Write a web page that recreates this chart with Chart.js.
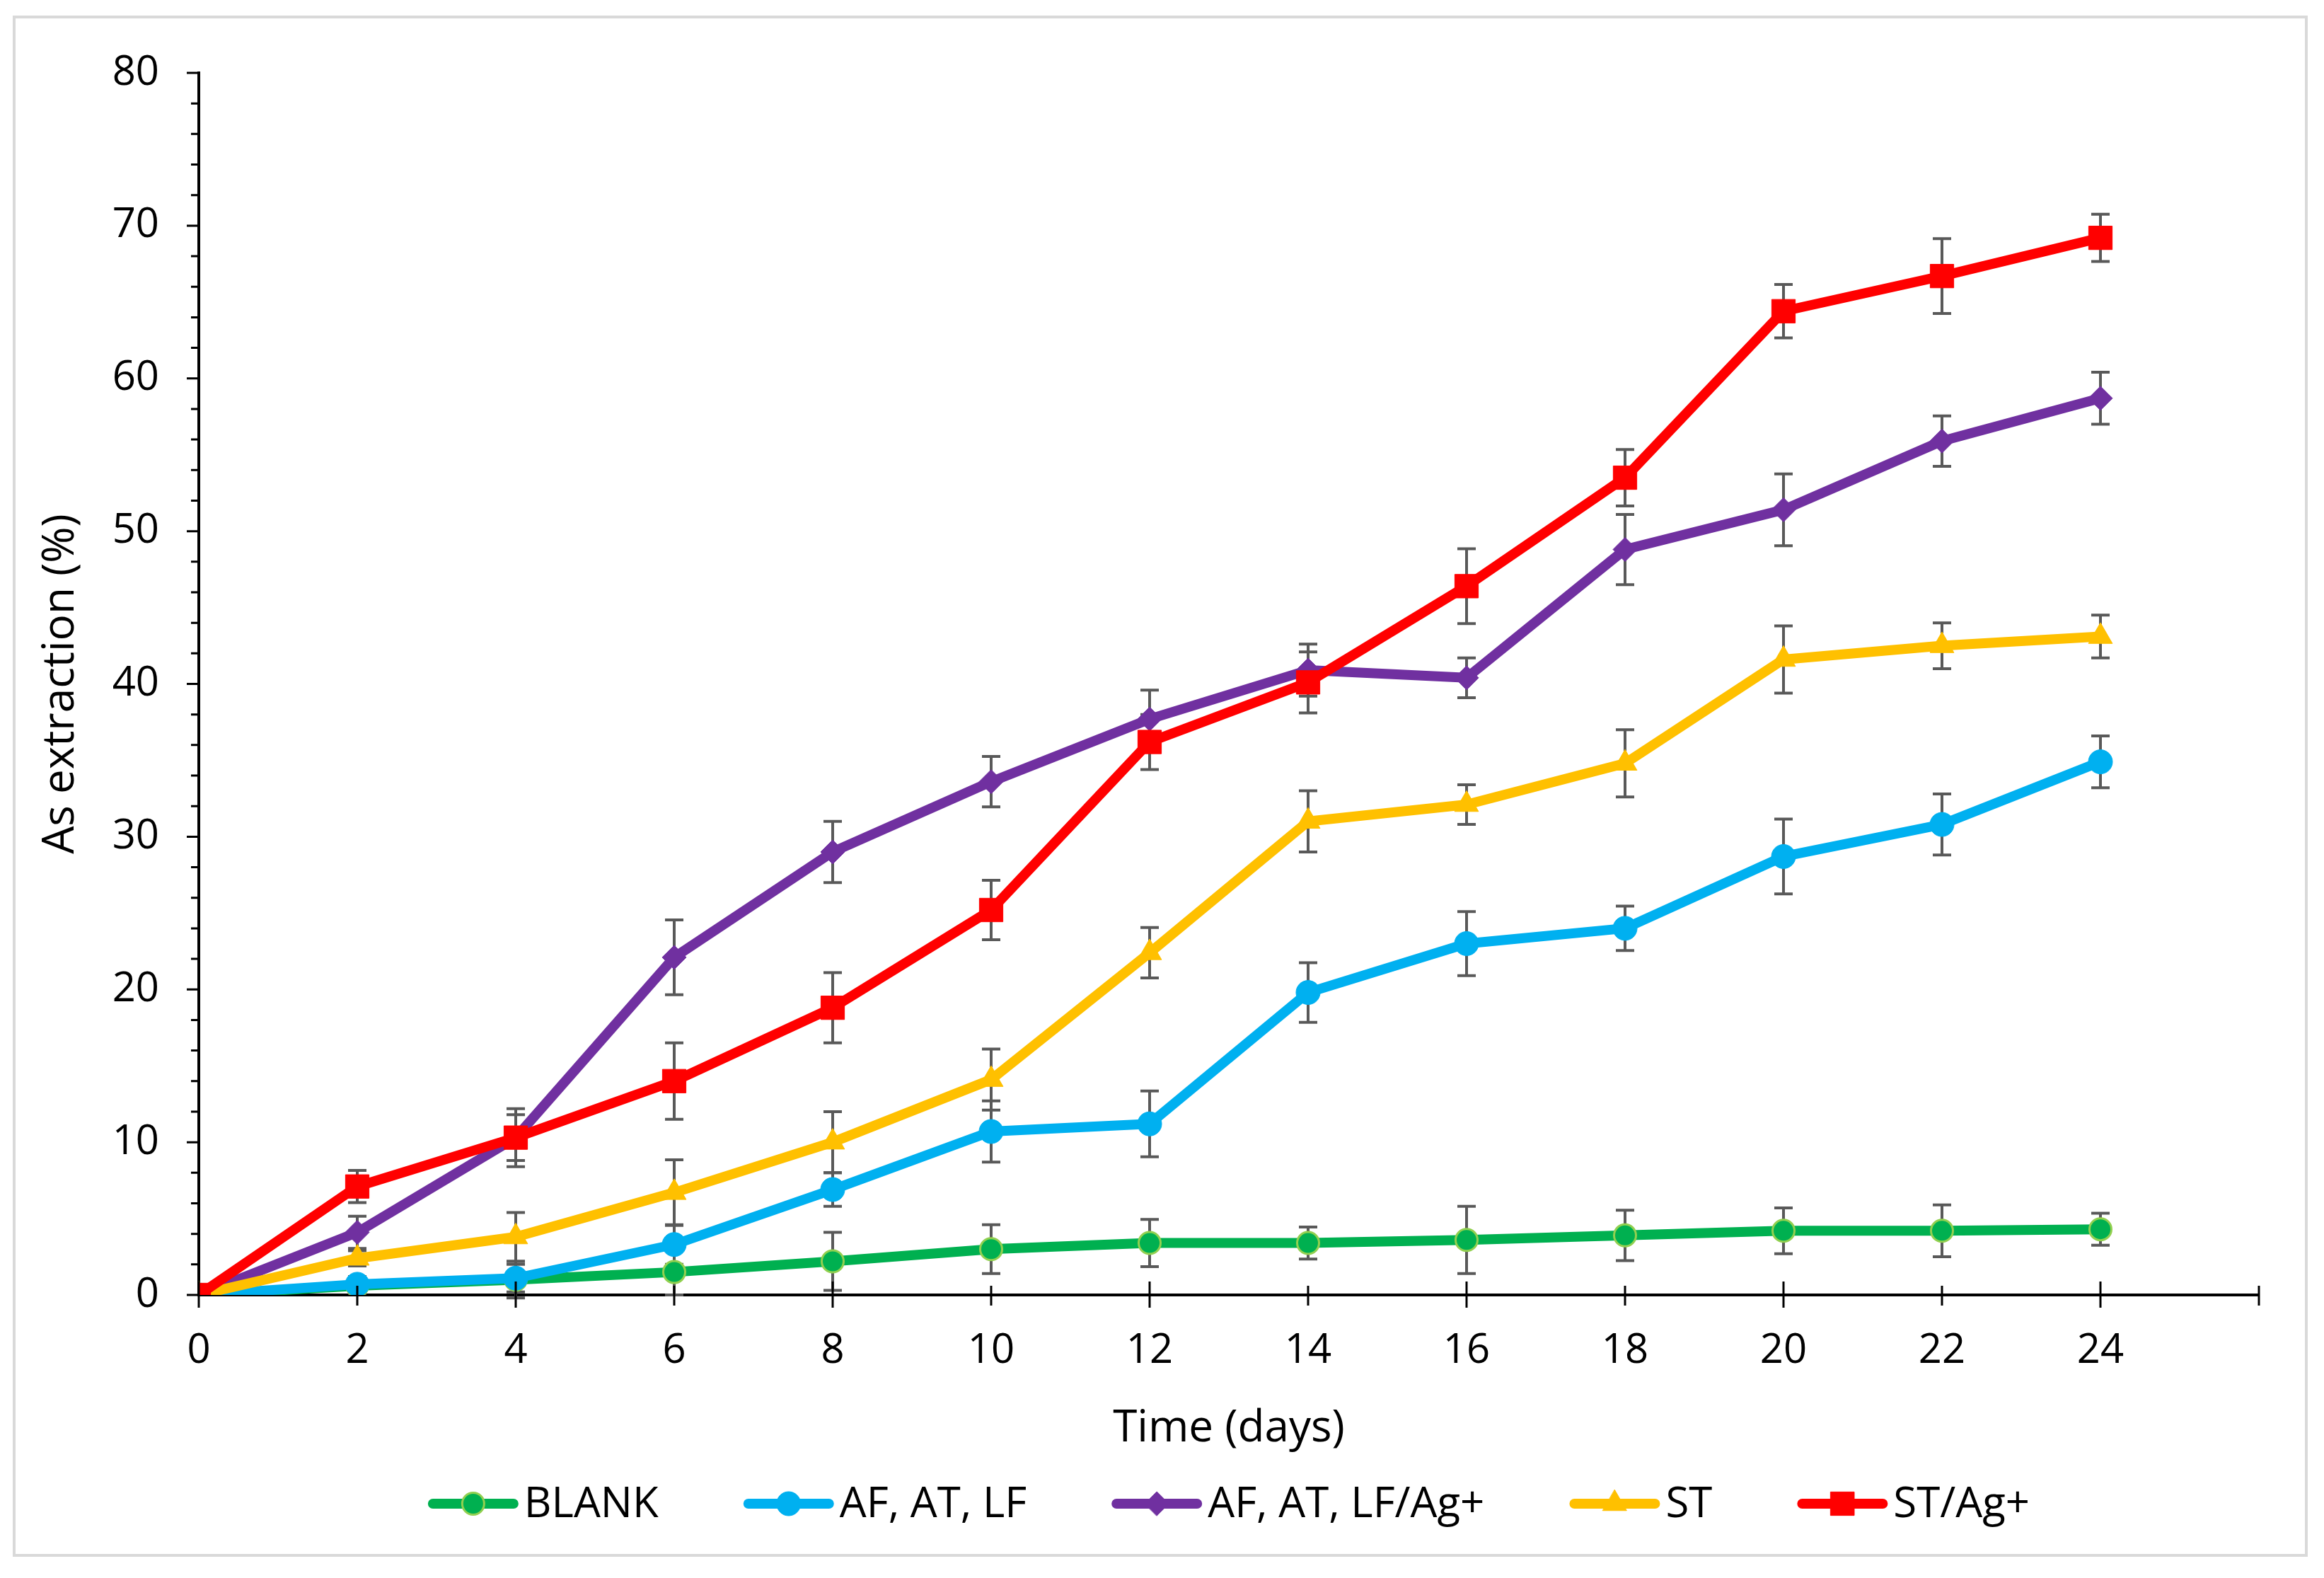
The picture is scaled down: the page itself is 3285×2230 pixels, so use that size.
<!DOCTYPE html>
<html>
<head>
<meta charset="utf-8">
<script src="https://cdn.jsdelivr.net/npm/chart.js@4.4.1/dist/chart.umd.min.js"></script>
<style>
  html, body { margin: 0; padding: 0; background: #ffffff; }
  #chart { display: block; }
</style>
</head>
<body>
<canvas id="chart" width="3285" height="2230"></canvas>
<script>
// --- data ---
const days = [0, 2, 4, 6, 8, 10, 12, 14, 16, 18, 20, 22, 24];

const blank       = [0, 0.6, 1.0, 1.5, 2.2, 3.0, 3.4, 3.4, 3.6, 3.9, 4.2, 4.2, 4.3];
const blankErr    = [0, 0.5, 1.2, 1.5, 1.9, 1.6, 1.55, 1.05, 2.2, 1.65, 1.5, 1.7, 1.05];
const afAtLf      = [0, 0.7, 1.1, 3.3, 6.9, 10.7, 11.2, 19.8, 23.0, 24.0, 28.7, 30.8, 34.9];
const afAtLfErr   = [0, 0.5, 0.9, 1.3, 1.1, 2.0, 2.15, 1.95, 2.1, 1.45, 2.45, 2.0, 1.7];
const afAtLfAg    = [0, 4.1, 10.3, 22.1, 29.0, 33.6, 37.7, 40.9, 40.4, 48.8, 51.4, 55.9, 58.7];
const afAtLfAgErr = [0, 1.05, 1.9, 2.45, 2.0, 1.65, 1.9, 1.7, 1.3, 2.3, 2.35, 1.65, 1.7];
const st          = [0, 2.4, 3.8, 6.7, 10.0, 14.1, 22.4, 31.0, 32.1, 34.8, 41.6, 42.5, 43.1];
const stErr       = [0, 0.5, 1.6, 2.15, 2.0, 2.0, 1.65, 2.0, 1.3, 2.2, 2.2, 1.5, 1.4];
const stAg        = [0, 7.1, 10.3, 14.0, 18.8, 25.2, 36.2, 40.1, 46.4, 53.5, 64.4, 66.7, 69.2];
const stAgErr     = [0, 1.05, 1.5, 2.5, 2.3, 1.95, 1.8, 2.0, 2.45, 1.85, 1.75, 2.45, 1.55];

const xTicks = [0, 2, 4, 6, 8, 10, 12, 14, 16, 18, 20, 22, 24];
const yTicks = [0, 10, 20, 30, 40, 50, 60, 70, 80];

const FONT = '"Open Sans", "Noto Sans", sans-serif';
Chart.defaults.font.family = FONT;
Chart.defaults.color = '#000000';

const toPoints = vals => vals.map((v, i) => ({ x: days[i], y: v }));

function series(label, vals, errs, color, style, radius, order, markerBorder) {
  return {
    label: label,
    data: toPoints(vals),
    errors: errs,
    borderColor: color,
    backgroundColor: color,
    borderWidth: 14,
    borderJoinStyle: 'round',
    tension: 0,
    pointStyle: style,
    pointRadius: radius,
    pointBackgroundColor: color,
    pointBorderColor: markerBorder || color,
    pointBorderWidth: markerBorder ? 3 : 1,
    order: order
  };
}

// frame, error bars, crossing tick marks and a line+marker legend
const decor = {
  id: 'decor',
  beforeDraw(chart) {
    const ctx = chart.ctx;
    ctx.save();
    ctx.fillStyle = '#ffffff';
    ctx.fillRect(0, 0, chart.width, chart.height);
    ctx.strokeStyle = '#d9d9d9';
    ctx.lineWidth = 4;
    ctx.strokeRect(20, 24, 3240, 2174);
    ctx.restore();
  },
  beforeDatasetsDraw(chart) {
    const ctx = chart.ctx;
    const xs = chart.scales.x, ys = chart.scales.y;
    ctx.save();
    ctx.strokeStyle = '#595959';
    ctx.lineWidth = 4;
    chart.data.datasets.forEach(ds => {
      ds.data.forEach((p, i) => {
        const e = ds.errors[i];
        if (!e) return;
        const px = xs.getPixelForValue(p.x);
        const top = ys.getPixelForValue(p.y + e);
        const bot = ys.getPixelForValue(p.y - e);
        ctx.beginPath();
        ctx.moveTo(px, top); ctx.lineTo(px, bot);
        ctx.moveTo(px - 13, top); ctx.lineTo(px + 13, top);
        ctx.moveTo(px - 13, bot); ctx.lineTo(px + 13, bot);
        ctx.stroke();
      });
    });
    ctx.restore();
  },
  afterDraw(chart) {
    const ctx = chart.ctx;
    const xs = chart.scales.x, ys = chart.scales.y;
    const axisY = ys.getPixelForValue(0);
    const axisX = xs.getPixelForValue(0);
    ctx.save();
    ctx.strokeStyle = '#000000';
    ctx.lineWidth = 3;
    ctx.beginPath();
    for (let v = 0; v <= 26; v += 2) {
      const px = xs.getPixelForValue(v);
      const major = v % 4 === 0;
      ctx.moveTo(px, axisY - (major ? 19 : 13));
      ctx.lineTo(px, axisY + (major ? 18 : 15));
    }
    for (let v = 0; v <= 80; v += 2) {
      const py = ys.getPixelForValue(v);
      const len = v % 10 === 0 ? 17 : 11;
      ctx.moveTo(axisX - len, py);
      ctx.lineTo(axisX, py);
    }
    ctx.stroke();

    // legend
    const lineLen = 128, textGap = 8, itemGap = 120, legendY = 2125;
    ctx.font = '60px ' + FONT;
    const sets = chart.data.datasets;
    const widths = sets.map(ds => ctx.measureText(ds.label).width);
    let total = itemGap * (sets.length - 1);
    widths.forEach(w => { total += lineLen + textGap + w; });
    let x = (chart.chartArea.left + chart.chartArea.right) / 2 - total / 2;
    sets.forEach((ds, i) => {
      ctx.strokeStyle = ds.borderColor;
      ctx.lineWidth = ds.borderWidth;
      ctx.lineCap = 'round';
      ctx.beginPath();
      ctx.moveTo(x + 7, legendY);
      ctx.lineTo(x + lineLen - 7, legendY);
      ctx.stroke();
      ctx.fillStyle = ds.pointBackgroundColor;
      ctx.strokeStyle = ds.pointBorderColor;
      ctx.lineWidth = ds.pointBorderWidth;
      Chart.helpers.drawPoint(ctx, {
        pointStyle: ds.pointStyle, radius: ds.pointRadius,
        borderWidth: ds.pointBorderWidth, rotation: 0
      }, x + lineLen / 2, legendY);
      ctx.fillStyle = '#000000';
      ctx.textAlign = 'left';
      ctx.textBaseline = 'middle';
      ctx.fillText(ds.label, x + lineLen + textGap, legendY + 2);
      x += lineLen + textGap + widths[i] + itemGap;
    });
    ctx.restore();
  }
};

new Chart(document.getElementById('chart'), {
  type: 'line',
  data: {
    datasets: [
      series('BLANK', blank, blankErr, '#00B050', 'circle', 15.5, 5, '#92D050'),
      series('AF, AT, LF', afAtLf, afAtLfErr, '#00B0F0', 'circle', 17, 4),
      series('AF, AT, LF/Ag+', afAtLfAg, afAtLfAgErr, '#7030A0', 'rectRot', 17, 3),
      series('ST', st, stErr, '#FFC000', 'triangle', 19.5, 2),
      series('ST/Ag+', stAg, stAgErr, '#FF0000', 'rect', 23.5, 1)
    ]
  },
  options: {
    responsive: false,
    animation: false,
    devicePixelRatio: 1,
    layout: { padding: { left: 0, right: 92, top: 103, bottom: 170 } },
    plugins: {
      legend: { display: false },
      tooltip: { enabled: false }
    },
    scales: {
      x: {
        type: 'linear',
        min: 0,
        max: 26,
        afterFit: s => { s.height = 230; },
        afterBuildTicks: s => { s.ticks = xTicks.concat([26]).map(v => ({ value: v })); },
        ticks: {
          padding: 45,
          autoSkip: false,
          maxRotation: 0,
          font: { size: 58 },
          callback: v => (xTicks.includes(v) ? String(v) : '')
        },
        grid: { display: false, drawTicks: false },
        border: { display: true, color: '#000000', width: 4 },
        title: {
          display: true,
          text: 'Time (days)',
          font: { size: 62 },
          padding: { top: 0, bottom: 3 }
        }
      },
      y: {
        min: 0,
        max: 80,
        afterFit: s => { s.width = 281; },
        afterBuildTicks: s => { s.ticks = yTicks.map(v => ({ value: v })); },
        ticks: {
          padding: 56,
          font: { size: 58 }
        },
        grid: { display: false, drawTicks: false },
        border: { display: true, color: '#000000', width: 4 },
        title: {
          display: true,
          text: 'As extraction (%)',
          font: { size: 62 },
          padding: { top: 49, bottom: 0 }
        }
      }
    }
  },
  plugins: [decor]
});
</script>
</body>
</html>
